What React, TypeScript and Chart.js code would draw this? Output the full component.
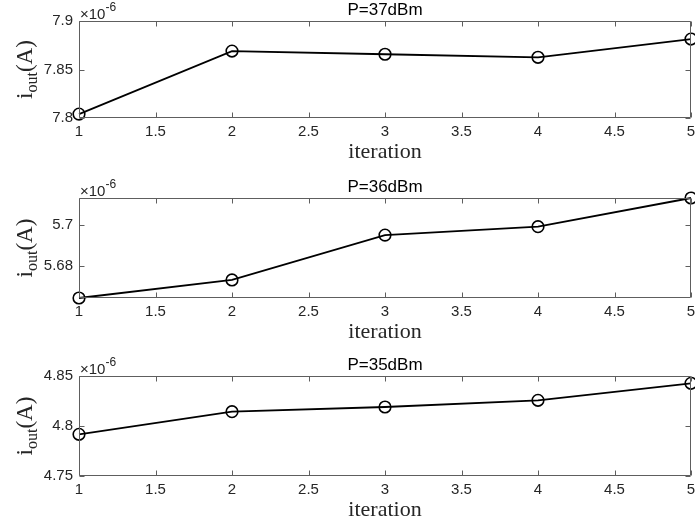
import React, { useEffect, useRef } from "react";
import { Chart, registerables } from "chart.js";
Chart.register(...registerables);

// ---- data (currents in units of 1e-6 A) ----
const ITERATIONS = [1, 2, 3, 4, 5];
const X_TICKS = [1, 1.5, 2, 2.5, 3, 3.5, 4, 4.5, 5];
const TITLES = ["P=37dBm", "P=36dBm", "P=35dBm"];
const I_OUT_37 = [7.804, 7.869, 7.8657, 7.8626, 7.8814];
const I_OUT_36 = [5.6644, 5.6732, 5.6951, 5.6992, 5.7132];
const I_OUT_35 = [4.7917, 4.8143, 4.819, 4.8257, 4.8427];
const Y_TICKS_37 = [7.8, 7.85, 7.9];
const Y_TICKS_36 = [5.68, 5.7];
const Y_TICKS_35 = [4.75, 4.8, 4.85];
const Y_RANGE_37 = [7.8, 7.9];
const Y_RANGE_36 = [5.6644, 5.7132];
const Y_RANGE_35 = [4.75, 4.85];
const X_LABEL = "iteration";
const Y_LABEL_MAIN = "i";
const Y_LABEL_SUB = "out";
const Y_LABEL_UNIT = "(A)";
const EXPONENT = "-6";

const AXIS_COLOR = "#5e5e5e";
const TEXT_COLOR = "#262626";
const SANS = '"Liberation Sans", Arial, sans-serif';
const SERIF = '"Liberation Serif", "Times New Roman", serif';

const fmt = (v: number) => String(Number(v.toFixed(4)));

type PanelProps = {
  values: number[];
  yTicks: number[];
  yRange: number[];
  title: string;
  top: number;
  height: number;
  padTop: number;
  xAxisHeight: number;
};

const framePlugin = (title: string) => ({
  id: "matlabFrame",
  afterDraw(chart: any) {
    const { ctx, chartArea, scales } = chart;
    const { left, right, top, bottom } = chartArea;
    const L = Math.round(left) + 0.5;
    const R = Math.round(right) - 0.5;
    const T = Math.round(top) + 0.5;
    const B = Math.round(bottom) - 0.5;
    ctx.save();
    ctx.strokeStyle = AXIS_COLOR;
    ctx.lineWidth = 1;
    ctx.beginPath();
    ctx.rect(L, T, R - L, B - T);
    const tl = 5;
    for (const v of X_TICKS) {
      const px = Math.round(scales.x.getPixelForValue(v)) + 0.5;
      ctx.moveTo(px, B);
      ctx.lineTo(px, B - tl);
      ctx.moveTo(px, T);
      ctx.lineTo(px, T + tl);
    }
    for (const t of scales.y.ticks) {
      const py = Math.round(scales.y.getPixelForValue(t.value)) + 0.5;
      ctx.moveTo(L, py);
      ctx.lineTo(L + tl, py);
      ctx.moveTo(R, py);
      ctx.lineTo(R - tl, py);
    }
    ctx.stroke();

    // title
    ctx.fillStyle = "#000";
    ctx.font = `17px ${SANS}`;
    ctx.textAlign = "center";
    ctx.textBaseline = "middle";
    ctx.fillText(title, (left + right) / 2, top - 11);

    // exponent marker
    ctx.fillStyle = TEXT_COLOR;
    ctx.textAlign = "left";
    ctx.textBaseline = "alphabetic";
    ctx.font = `15px ${SANS}`;
    const base = "\u00d710";
    ctx.fillText(base, left + 1, top - 2);
    const bw = ctx.measureText(base).width;
    ctx.font = `12px ${SANS}`;
    ctx.fillText(EXPONENT, left + 1 + bw, top - 10);

    // x label
    ctx.font = `22px ${SERIF}`;
    ctx.textAlign = "center";
    ctx.textBaseline = "middle";
    ctx.fillText(X_LABEL, (left + right) / 2, bottom + 34);

    // y label
    ctx.translate(32, (top + bottom) / 2);
    ctx.rotate(-Math.PI / 2);
    ctx.textAlign = "left";
    ctx.textBaseline = "alphabetic";
    ctx.font = `23px ${SERIF}`;
    const wMain = ctx.measureText(Y_LABEL_MAIN).width;
    const wUnit = ctx.measureText(Y_LABEL_UNIT).width;
    ctx.font = `16px ${SERIF}`;
    const wSub = ctx.measureText(Y_LABEL_SUB).width;
    let cx = -(wMain + wSub + wUnit) / 2;
    ctx.font = `23px ${SERIF}`;
    ctx.fillText(Y_LABEL_MAIN, cx, 0);
    cx += wMain;
    ctx.font = `16px ${SERIF}`;
    ctx.fillText(Y_LABEL_SUB, cx, 5);
    cx += wSub;
    ctx.font = `23px ${SERIF}`;
    ctx.fillText(Y_LABEL_UNIT, cx, 0);
    ctx.restore();
  },
});

function Panel({ values, yTicks, yRange, title, top, height, padTop, xAxisHeight }: PanelProps) {
  const ref = useRef<HTMLCanvasElement | null>(null);
  useEffect(() => {
    if (!ref.current) return;
    const chart = new Chart(ref.current, {
      type: "line",
      data: {
        datasets: [
          {
            data: ITERATIONS.map((x, i) => ({ x, y: values[i] })),
            borderColor: "#000",
            borderWidth: 1.8,
            pointRadius: 5.8,
            pointBorderWidth: 1.6,
            pointBorderColor: "#000",
            pointBackgroundColor: "rgba(0,0,0,0)",
            tension: 0,
            clip: false as any,
          },
        ],
      },
      options: {
        animation: false,
        responsive: false,
        maintainAspectRatio: false,
        devicePixelRatio: 1,
        layout: { autoPadding: false, padding: { top: padTop, right: 4, left: 0, bottom: 0 } },
        plugins: { legend: { display: false }, tooltip: { enabled: false }, title: { display: false } },
        scales: {
          x: {
            type: "linear",
            min: 1,
            max: 5,
            afterBuildTicks: (s: any) => {
              s.ticks = X_TICKS.map((v) => ({ value: v }));
            },
            afterFit: (s: any) => {
              s.height = xAxisHeight;
              s.paddingLeft = 0;
              s.paddingRight = 0;
            },
            grid: { display: false, drawTicks: false },
            border: { display: false },
            ticks: {
              autoSkip: false,
              maxRotation: 0,
              padding: 5,
              color: TEXT_COLOR,
              font: { family: SANS, size: 15 },
              callback: (v: any) => fmt(Number(v)),
            },
          },
          y: {
            type: "linear",
            min: yRange[0],
            max: yRange[1],
            afterBuildTicks: (s: any) => {
              s.ticks = yTicks.map((v) => ({ value: v }));
            },
            afterFit: (s: any) => {
              s.width = 79;
              s.paddingTop = 0;
              s.paddingBottom = 0;
            },
            grid: { display: false, drawTicks: false },
            border: { display: false },
            ticks: {
              padding: 6,
              color: TEXT_COLOR,
              font: { family: SANS, size: 15 },
              callback: (v: any) => fmt(Number(v)),
            },
          },
        },
      } as any,
      plugins: [framePlugin(title)],
    });
    return () => chart.destroy();
  }, []);
  return (
    <canvas
      ref={ref}
      width={695}
      height={height}
      style={{ position: "absolute", left: 0, top, width: 695, height }}
    />
  );
}

export default function App() {
  return (
    <div style={{ position: "fixed", left: 0, top: 0, width: 695, height: 531, background: "#fff", overflow: "hidden" }}>
      <Panel values={I_OUT_37} yTicks={Y_TICKS_37} yRange={Y_RANGE_37} title={TITLES[0]} top={0} height={178} padTop={21} xAxisHeight={60} />
      <Panel values={I_OUT_36} yTicks={Y_TICKS_36} yRange={Y_RANGE_36} title={TITLES[1]} top={178} height={178} padTop={20} xAxisHeight={58} />
      <Panel values={I_OUT_35} yTicks={Y_TICKS_35} yRange={Y_RANGE_35} title={TITLES[2]} top={356} height={175} padTop={20} xAxisHeight={55} />
    </div>
  );
}
